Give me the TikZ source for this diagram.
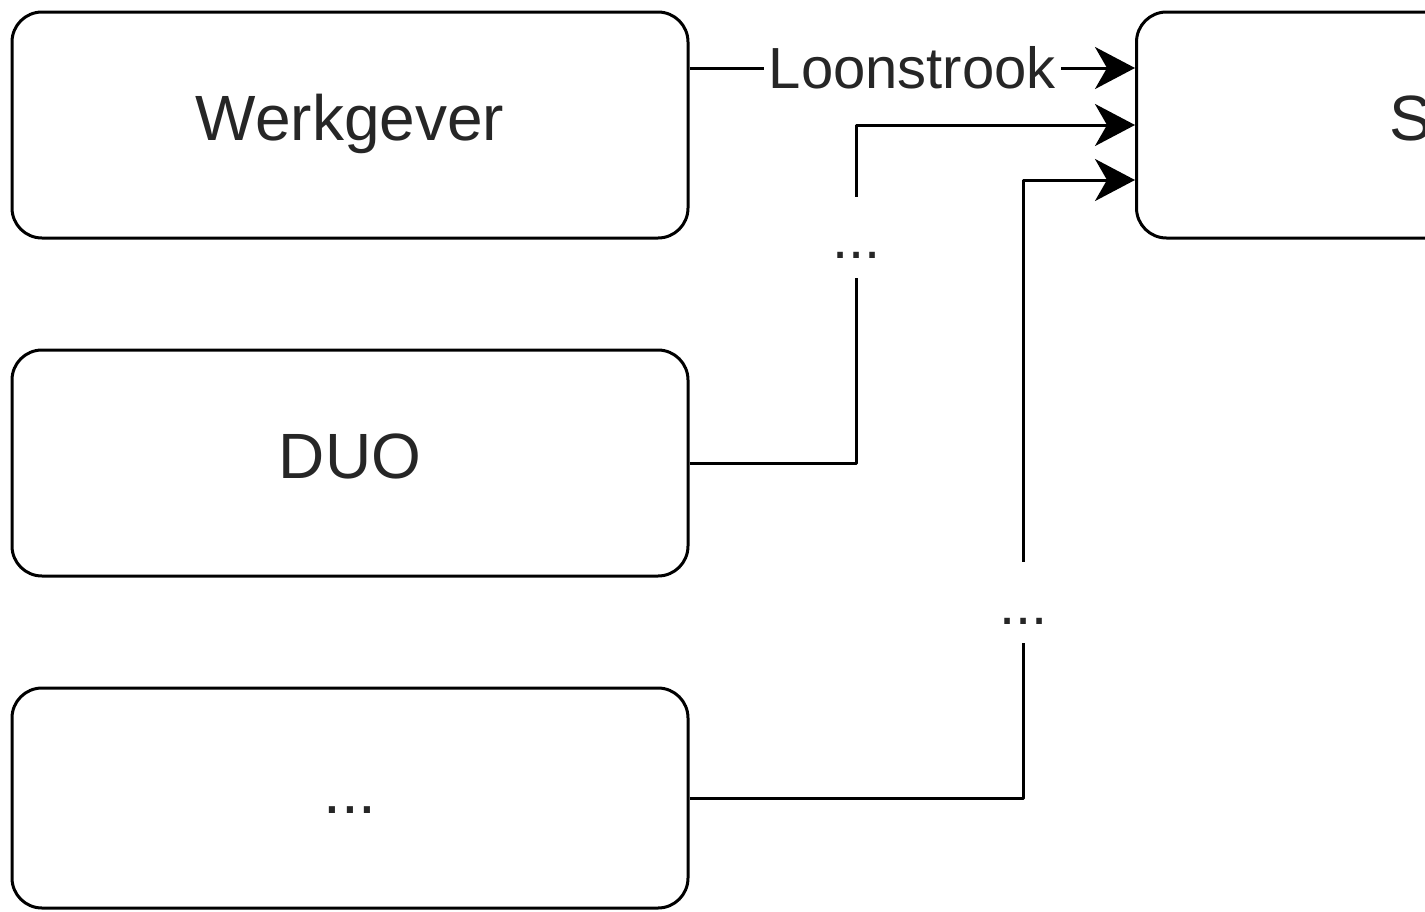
\documentclass[tikz,border=0pt]{standalone}
\usepackage{fontspec}
\setmainfont{Liberation Sans}
\usetikzlibrary{arrows.meta}

\begin{document}
\begin{tikzpicture}[x=1pt,y=-1pt,
  block/.style={draw, line width=3pt, rounded corners=30pt, minimum width=676pt, minimum height=226pt,
    text height=44pt, text depth=14pt, font=\fontsize{64}{72}\selectfont, text=black!85},
  flow/.style={line width=3pt, line join=round, -{Stealth[length=40pt,width=42pt,inset=12pt]}},
  tag/.style={fill=white, inner sep=5pt, font=\fontsize{58}{64}\selectfont, text=black!85}]
\useasboundingbox (0,0) rectangle (1425,911);
\clip (0,0) rectangle (1425,911);

\node[block] (werkgever) at (350,125) {Werkgever};
\node[block] (duo) at (350,463) {DUO};
\node[block, minimum height=220pt] (overig) at (350,798) {...};
\node[block, anchor=west, inner xsep=253pt, text width=170pt, align=left] (s) at (1135,125) {S};

\draw[flow] ([yshift=57pt]werkgever.east) -- node[tag] {Loonstrook} ([yshift=57pt]s.west);
\draw[flow] (duo.east) -- ++(167,0) |- node[tag, pos=0.334, text height=57pt, text depth=14pt] {...} (s.west);
\draw[flow] (overig.east) -- ++(334,0) |- node[tag, pos=0.158, text height=57pt, text depth=14pt] {...} ([yshift=-55pt]s.west);
\end{tikzpicture}
\end{document}
